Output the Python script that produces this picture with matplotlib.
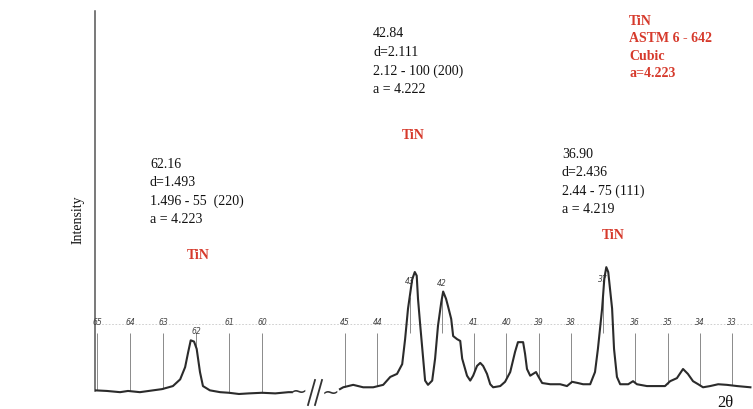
import matplotlib.pyplot as plt
import numpy as np
from matplotlib.lines import Line2D

# дифрактограмма TiN, относительная интенсивность (пик 42.84 = 100)
# участок 1: 2θ 65 ... 59
tt_hi = [65.06, 64.70, 64.30, 64.06, 63.70, 63.30, 63.03, 62.70, 62.48, 62.33, 62.24, 62.16,
         62.06, 61.98, 61.88, 61.79, 61.58, 61.27, 61.00, 60.70, 60.40, 60.00, 59.60, 59.20, 59.10]
int_hi = [3, 2.5, 1.5, 2.5, 1.5, 3, 4, 6.5, 12, 22, 34, 44,
          43, 37, 18, 6.5, 3, 1.5, 1, 0, 0.5, 1, 0.5, 1.5, 1.5]

# участок 2: 2θ 45 ... 32.4
tt_lo = [45.16, 45.06, 44.75, 44.44, 44.13, 43.82, 43.60, 43.39, 43.23, 43.14, 43.05, 42.92,
         42.84, 42.78, 42.74, 42.67, 42.58, 42.52, 42.43, 42.30, 42.21, 42.12, 42.02, 41.96,
         41.87, 41.81, 41.71, 41.65, 41.53, 41.43, 41.37, 41.22, 41.12, 41.03, 40.91, 40.81,
         40.72, 40.60, 40.50, 40.41, 40.19, 40.04, 39.88, 39.73, 39.64, 39.48, 39.42, 39.36,
         39.26, 39.17, 39.08, 39.02, 38.89, 38.64, 38.33, 38.12, 37.96, 37.78, 37.62, 37.40,
         37.25, 37.16, 37.03, 36.96, 36.90, 36.84, 36.72, 36.66, 36.57, 36.47, 36.22, 36.07,
         35.95, 35.64, 35.33, 35.08, 34.92, 34.71, 34.52, 34.37, 34.21, 34.05, 33.90, 33.68,
         33.43, 33.16, 32.84, 32.43]
int_lo = [4, 5.5, 7.5, 5.5, 5.5, 7.5, 14, 16.5, 24.5, 45, 70, 94,
          100, 97, 78, 56, 29, 11, 7.5, 11, 29, 56, 75, 84,
          78, 72, 61.5, 47.5, 45, 43.5, 29, 15, 11, 15, 23, 25.5,
          23, 16.5, 8, 5.5, 6.5, 10, 18, 34.5, 42.5, 42.5, 33, 20.5,
          15, 16.5, 18, 15, 9, 8, 8, 6.5, 10, 9, 8, 8,
          18, 37, 70, 95, 104, 100, 70, 37, 14, 8, 8, 10.5,
          8, 6.5, 6.5, 6.5, 10.5, 13, 20.5, 16.5, 10.5, 8, 5.5, 6.5,
          8, 7.5, 6.5, 5.5]

ticks_hi = [65, 64, 63, 62, 61, 60]
ticks_lo = [45, 44, 43, 42, 41, 40, 39, 38, 37, 36, 35, 34, 33]
peak_ticks = [62, 43, 42, 37]  # метки, подписанные прямо на вершине пика

W, H = 753, 410
fig = plt.figure(figsize=(W / 100, H / 100), dpi=100)
plt.rcParams['font.family'] = ['Liberation Serif', 'DejaVu Serif']

ylim = (-4.1, 314)
ax1 = fig.add_axes([95 / W, 10 / H, 205 / W, 388 / H])
ax2 = fig.add_axes([300 / W, 10 / H, 453 / W, 388 / H])
ax1.set_xlim(65.06, 58.85)
ax2.set_xlim(46.40, 32.35)

for ax, tt, ii, ticks in [(ax1, tt_hi, int_hi, ticks_hi), (ax2, tt_lo, int_lo, ticks_lo)]:
    ax.set_ylim(*ylim)
    ax.patch.set_alpha(0)
    ax.set_xticks([])
    ax.set_yticks([])
    for s in ['top', 'right', 'bottom', 'left']:
        ax.spines[s].set_visible(False)
    # пунктирная линия уровня и вертикальные отметки градусов
    ax.axhline(57, color='#c8c8c8', lw=0.6, ls=(0, (2, 2)), zorder=1)
    xs, ys = np.array(tt)[::-1], np.array(ii)[::-1]
    for t in ticks:
        base = np.interp(t, xs, ys)
        ax.vlines(t, base, 50, color='#8a8a8a', lw=0.7, zorder=1)
        if t in peak_ticks:
            ax.text(t, base + 10, str(t), fontsize=5.5, style='italic',
                    color='#444444', ha='center', va='bottom', family='DejaVu Sans')
        else:
            ax.text(t, 56, str(t), fontsize=5.5, style='italic', color='#444444',
                    ha='center', va='bottom', family='DejaVu Sans')
    ax.plot(tt, ii, color='#2b2b2b', lw=1.5, zorder=3)

ax1.spines['left'].set_visible(True)
ax1.spines['left'].set_bounds(2.5, 314)
ax1.spines['left'].set_color('#555555')
ax1.spines['left'].set_linewidth(1.1)

# разрыв оси ~//~
fig.text(299 / W, 1 - 392 / H, '~', fontsize=15, ha='center', va='center', color='#333333',
         family='DejaVu Sans')
fig.text(331 / W, 1 - 393 / H, '~', fontsize=15, ha='center', va='center', color='#333333',
         family='DejaVu Sans')
for x0 in [308, 315]:
    fig.add_artist(Line2D([x0 / W, (x0 + 7) / W], [1 - 406 / H, 1 - 381 / H],
                          color='#333333', lw=1.3))


def block(x, y0, lines, dy, **kw):
    for i, s in enumerate(lines):
        fig.text(x / W, 1 - (y0 + i * dy) / H, s, va='baseline', ha='left', **kw)


black = dict(fontsize=10, color='#111111')
red = dict(fontsize=10, color='#d63a2c', fontweight='bold')

block(150, 168, ['62.16', 'd=1.493', '1.496 - 55  (220)', 'a = 4.223'], 18.3, **black)
block(373, 37, ['42.84', 'd=2.111', '2.12 - 100 (200)', 'a = 4.222'], 18.7, **black)
block(562, 158, ['36.90', 'd=2.436', '2.44 - 75 (111)', 'a = 4.219'], 18.5, **black)

block(187, 259, ['TiN'], 0, **red)
block(402, 139, ['TiN'], 0, **red)
block(602, 239, ['TiN'], 0, **red)
block(629, 25, ['TiN', 'ASTM 6 - 642', 'Cubic', 'a=4.223'], 17.3, **red)

fig.text(78 / W, 1 - 220 / H, 'Intensity', rotation=90, fontsize=10, color='#111111',
         ha='center', va='center')
fig.text(717 / W, 1 - 407 / H, '2θ', fontsize=12, color='#111111', ha='left', va='baseline')

plt.savefig('out.png', dpi=100)
plt.close()
